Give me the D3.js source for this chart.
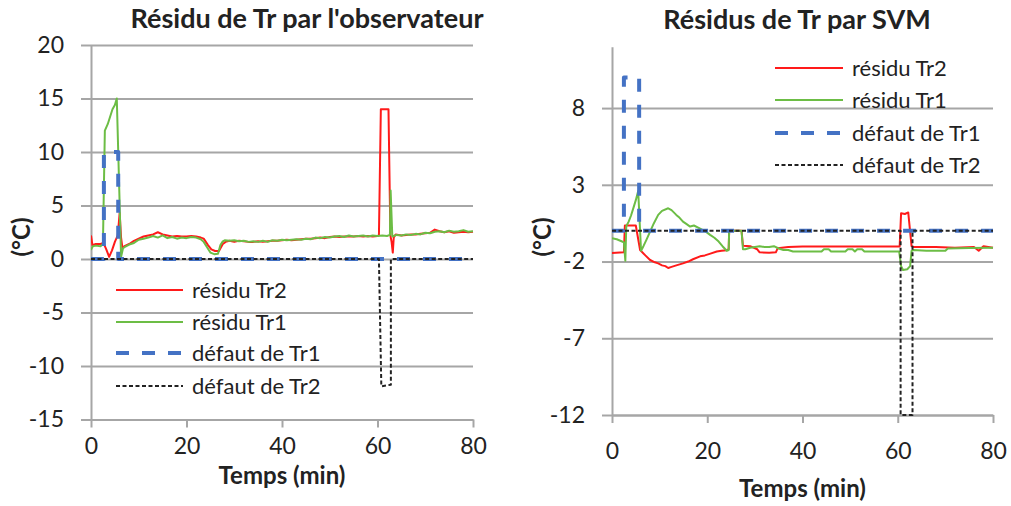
<!DOCTYPE html>
<html>
<head>
<meta charset="utf-8">
<script src="https://cdn.jsdelivr.net/npm/d3@7"></script>
<style>
  html, body { margin: 0; padding: 0; background: #fff; }
  svg { display: block; }
</style>
</head>
<body>
<svg id="chart" width="1011" height="506"></svg>
<script>
// ---------------- DATA ----------------
const xTicks = [0, 20, 40, 60, 80];
const leftYTicks = [-15, -10, -5, 0, 5, 10, 15, 20];
const rightYTicks = [-12, -7, -2, 3, 8];
const seriesNames = ["résidu Tr2", "résidu Tr1", "défaut de Tr1", "défaut de Tr2"];
const leftTitle = "Résidu de Tr par l'observateur";
const rightTitle = "Résidus de Tr par SVM";
const xTitle = "Temps (min)";
const yTitle = "(°C)";

// Left chart: observer residuals  [time (min), value (°C)]
const obsResTr2 = [[0,2.2],[0.3,1.3],[1,1.4],[2,1.4],[2.6,1.5],[3.2,0.9],[3.8,0.2],[4.4,0.8],[5,1.6],[5.6,2.2],[6.0,4.3],[6.3,2.0],[6.6,1.0],[7,1.2],[8,1.4],[9,1.7],[10,1.9],[11,2.1],[12,2.2],[13,2.3],[14,2.5],[15,2.3],[16,2.2],[17,2.1],[18,2.15],[19,2.1],[20,2.1],[21,2.15],[22,2.1],[23,2.0],[23.6,1.9],[24.5,1.3],[25.2,0.9],[26,0.75],[26.8,0.75],[27.6,1.4],[28.2,1.6],[29,1.7],[30,1.6],[31,1.7],[32,1.65],[33,1.6],[34,1.6],[35,1.65],[36,1.6],[37,1.65],[38,1.7],[39,1.7],[40,1.75],[41,1.8],[42,1.75],[43,1.8],[44,1.85],[45,1.9],[46,1.9],[47,1.95],[48,2.0],[49,1.95],[50,2.05],[51,2.1],[52,2.05],[53,2.1],[54,2.1],[55,2.1],[56,2.15],[57,2.1],[58,2.15],[59,2.1],[60,2.15],[60.3,2.2],[60.7,14.0],[62.3,14.0],[62.7,2.2],[62.95,1.6],[63.2,0.6],[63.4,2.0],[63.8,2.3],[65,2.2],[66,2.25],[67,2.3],[68,2.3],[69,2.35],[70,2.4],[71,2.45],[72,2.75],[73,2.6],[74,2.5],[75,2.6],[76,2.45],[77,2.5],[78,2.55],[79,2.5],[80,2.55]];
const obsResTr1 = [[0,0.85],[0.4,1.2],[1,1.25],[2,1.2],[2.5,1.4],[2.9,12.0],[3.5,12.6],[4,13.3],[4.5,14.0],[5,14.4],[5.4,15.0],[6.3,0.2],[6.7,1.0],[7,1.1],[8,1.35],[9,1.5],[10,1.8],[11,1.9],[12,2.0],[13,2.15],[14,2.0],[15,2.2],[16,1.95],[17,2.05],[18,1.9],[19,2.0],[20,1.95],[21,2.05],[22,2.0],[23,1.85],[23.6,1.6],[24.3,1.1],[25,0.6],[25.8,0.45],[26.6,0.5],[27.1,1.3],[27.6,1.65],[28,1.75],[29,1.7],[30,1.75],[31,1.65],[32,1.7],[33,1.6],[34,1.65],[35,1.6],[36,1.7],[37,1.6],[38,1.75],[39,1.7],[40,1.8],[41,1.75],[42,1.8],[43,1.85],[44,1.8],[45,1.9],[46,1.85],[47,2.0],[48,1.95],[49,2.05],[50,2.0],[51,2.1],[52,2.15],[53,2.05],[54,2.2],[55,2.1],[56,2.15],[57,2.2],[58,2.1],[59,2.2],[60,2.15],[61,2.2],[62,2.15],[62.6,2.25],[62.75,6.4],[63.1,2.1],[64,2.25],[65,2.2],[66,2.3],[67,2.25],[68,2.35],[69,2.3],[70,2.45],[71,2.4],[72,2.55],[73,2.6],[74,2.5],[75,2.65],[76,2.55],[77,2.6],[78,2.7],[79,2.55],[80,2.6]];
const obsFaultTr1 = [[0,0],[2.7,0],[2.7,10],[5.7,10],[5.7,0],[80,0]];
const obsFaultTr2 = [[0,0],[60.3,0],[60.8,-11.9],[62.8,-11.75],[62.8,0],[80,0]];

// Right chart: SVM residuals
const svmResTr2 = [[0,-1.45],[2.5,-1.4],[2.7,0.35],[5.0,0.35],[5.9,-1.25],[7,-1.6],[8,-1.9],[9,-2.05],[9.7,-2.12],[10.5,-2.25],[11.2,-2.3],[11.8,-2.42],[12.5,-2.35],[13.5,-2.25],[14.9,-2.12],[16,-2.0],[17,-1.85],[18.5,-1.66],[19.5,-1.6],[20.5,-1.5],[22,-1.35],[23,-1.3],[24.1,-1.26],[24.5,-1.2],[24.6,0],[27.2,0],[27.5,-0.97],[29,-1.0],[30.5,-1.2],[31,-1.4],[33,-1.42],[34.4,-1.4],[34.8,-1.13],[37,-1.05],[40,-1.02],[45,-1.02],[50,-1.02],[55,-1.02],[60.4,-1.02],[60.7,1.15],[61.5,1.1],[62.2,1.2],[62.9,-1.0],[63.2,-1.05],[68,-1.05],[72,-1.1],[76,-1.05],[77,-1.3],[78,-1.0],[80,-1.1]];
const svmResTr1 = [[0,-0.48],[1,-0.55],[2,-0.68],[2.5,-0.75],[2.8,-1.95],[3.0,0.3],[3.5,0.6],[4,1.0],[4.5,1.5],[5,2.0],[5.5,2.6],[6.1,-1.3],[6.6,-1.0],[7.2,-0.6],[8,-0.05],[8.8,0.5],[9.7,1.04],[10.5,1.3],[11.8,1.47],[12.5,1.35],[13.5,1.04],[14.2,0.85],[14.9,0.6],[15.6,0.45],[16.4,0.28],[17.2,0.35],[18.2,0.2],[19.7,-0.05],[20.6,-0.26],[21.5,-0.45],[22.4,-0.7],[23.2,-1.0],[24.1,-1.3],[24.5,-1.25],[24.6,0],[27.2,0],[27.5,-1.2],[28,-1.2],[29,-1.1],[30,-1.05],[31,-1.0],[32,-1.05],[33,-1.05],[34,-1.0],[35,-1.15],[36,-1.25],[37,-1.25],[38,-1.35],[40,-1.35],[44,-1.35],[44.5,-1.2],[45.5,-1.2],[46,-1.35],[49,-1.35],[49.5,-1.2],[50.5,-1.2],[51,-1.35],[51.5,-1.2],[52.5,-1.2],[53,-1.35],[60.3,-1.35],[60.7,-2.3],[61.1,-2.55],[62.0,-2.5],[62.6,-2.3],[62.9,-1.3],[63.2,-1.25],[66,-1.3],[70,-1.3],[70.5,-1.15],[75,-1.12],[80,-1.1]];
const svmFaultTr1 = [[0,0],[2.5,0],[2.5,10],[5.7,10],[5.7,0],[80,0]];
const svmFaultTr2 = [[0,0],[60.6,0],[60.6,-12],[63.1,-12],[63.1,0],[80,0]];

// ---------------- STYLE ----------------
const FONT = "Lato, 'Open Sans', sans-serif";
const TXT = "#222";
const GRID = "#a6a6a6";
const styles = [
  { color: "#ff1a1a", width: 2, dash: null },
  { color: "#6cbd45", width: 2, dash: null },
  { color: "#4472c4", width: 4, dash: "13 13" },
  { color: "#222222", width: 2, dash: "4 2.5" }
];
const fmt = d => String(d);

const svg = d3.select("#chart");

function drawChart(cfg) {
  const x = d3.scaleLinear().domain([0, 80]).range([cfg.x0, cfg.x1]);
  const y = d3.scaleLinear().domain(cfg.yDomain).range([cfg.y1, cfg.y0]);
  const g = svg.append("g");

  // gridlines
  const grid = g.append("g").attr("transform", `translate(${cfg.x0},0)`)
    .call(d3.axisLeft(y).tickValues(cfg.yTicks).tickSize(-(cfg.x1 - cfg.x0)).tickFormat(""));
  grid.select(".domain").remove();
  grid.selectAll(".tick line").attr("stroke", GRID).attr("stroke-width", 2);

  // y axis
  const ya = g.append("g").attr("transform", `translate(${cfg.x0},0)`)
    .call(d3.axisLeft(y).tickValues(cfg.yTicks).tickFormat(fmt).tickSize(10).tickSizeOuter(0).tickPadding(17));
  ya.select(".domain").attr("stroke", GRID).attr("stroke-width", 2);
  ya.selectAll(".tick line").attr("stroke", GRID).attr("stroke-width", 2);
  ya.selectAll(".tick text").attr("font-family", FONT).attr("font-size", 23).attr("fill", TXT);

  // x axis
  const xa = g.append("g").attr("transform", `translate(0,${cfg.y1})`)
    .call(d3.axisBottom(x).tickValues(xTicks).tickFormat(fmt).tickSize(8).tickSizeOuter(0));
  xa.select(".domain").attr("stroke", GRID).attr("stroke-width", 2);
  xa.selectAll(".tick line").attr("stroke", GRID).attr("stroke-width", 2);
  xa.selectAll(".tick text").attr("font-family", FONT).attr("font-size", 23).attr("fill", TXT)
    .attr("y", cfg.xLabelBase - cfg.y1).attr("dy", 0);

  // series
  const line = d3.line().x(d => x(d[0])).y(d => y(d[1]));
  const clipId = "clip" + cfg.id;
  svg.append("clipPath").attr("id", clipId).append("rect")
    .attr("x", cfg.x0).attr("y", cfg.y0 - 4).attr("width", cfg.x1 - cfg.x0 + 4).attr("height", cfg.y1 - cfg.y0 + 8);
  cfg.series.forEach((s, i) => {
    const st = styles[i];
    g.append("path").datum(s)
      .attr("clip-path", `url(#${clipId})`)
      .attr("d", line).attr("fill", "none")
      .attr("stroke", st.color).attr("stroke-width", st.width)
      .attr("stroke-dasharray", st.dash).attr("stroke-linejoin", "round");
  });

  // legend
  seriesNames.forEach((name, i) => {
    const st = styles[i];
    const ly = cfg.legend.rows[i];
    g.append("line").attr("x1", cfg.legend.lx0).attr("x2", cfg.legend.lx1)
      .attr("y1", ly).attr("y2", ly)
      .attr("stroke", st.color).attr("stroke-width", st.width).attr("stroke-dasharray", st.dash);
    g.append("text").attr("x", cfg.legend.tx).attr("y", ly).attr("dy", "0.36em")
      .attr("font-family", FONT).attr("font-size", 22).attr("fill", TXT).text(name);
  });

  // titles
  g.append("text").attr("x", cfg.titleX).attr("y", cfg.titleY).attr("text-anchor", "middle")
    .attr("font-family", FONT).attr("font-weight", "bold").attr("font-size", 27).attr("fill", TXT).text(cfg.title);
  g.append("text").attr("x", (cfg.x0 + cfg.x1) / 2).attr("y", cfg.xTitleY).attr("text-anchor", "middle")
    .attr("font-family", FONT).attr("font-weight", "bold").attr("font-size", 24).attr("fill", TXT).text(xTitle);
  g.append("text").attr("transform", `translate(${cfg.yTitleX},237) rotate(-90)`)
    .attr("text-anchor", "middle").attr("dy", "0.35em")
    .attr("font-family", FONT).attr("font-weight", "bold").attr("font-size", 24).attr("fill", TXT).text(yTitle);
}

drawChart({
  id: "L", x0: 91, x1: 473, y0: 45, y1: 419.5, yDomain: [-15, 20], yTicks: leftYTicks,
  xLabelBase: 454, xTitleY: 484, yTitleX: 22, title: leftTitle, titleX: 307, titleY: 28,
  series: [obsResTr2, obsResTr1, obsFaultTr1, obsFaultTr2],
  legend: { lx0: 116, lx1: 183, tx: 192, rows: [290, 322, 353, 386] }
});
drawChart({
  id: "R", x0: 612, x1: 993, y0: 46.7, y1: 415, yDomain: [-12, 12], yTicks: rightYTicks,
  xLabelBase: 459, xTitleY: 497, yTitleX: 543, title: rightTitle, titleX: 797, titleY: 29,
  series: [svmResTr2, svmResTr1, svmFaultTr1, svmFaultTr2],
  legend: { lx0: 775, lx1: 843, tx: 852, rows: [68, 100, 133, 165] }
});
</script>
</body>
</html>
